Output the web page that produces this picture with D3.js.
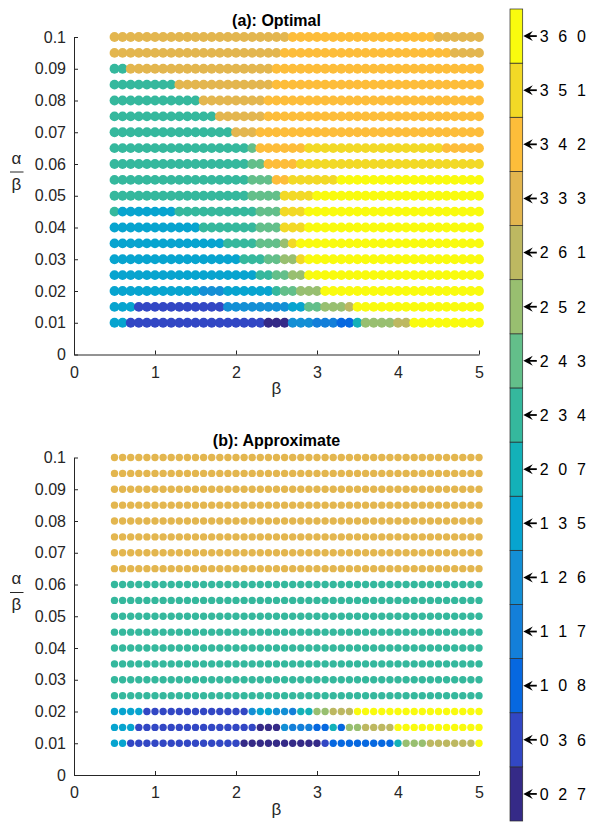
<!DOCTYPE html>
<html>
<head>
<meta charset="utf-8">
<script src="https://cdn.jsdelivr.net/npm/d3@7"></script>
<style>
body { margin: 0; background: #ffffff; }
svg { display: block; font-family: "Liberation Sans", Arial, Helvetica, sans-serif; }
</style>
</head>
<body>
<svg id="chart"></svg>
<script>
var width = 589;
var height = 824;

// colour classes, bottom to top of the colour bar
var classes = ["027", "036", "108", "117", "126", "135", "207", "234",
	"243", "252", "261", "333", "342", "351", "360"];
var classColors = ["#352a87", "#3247c4", "#0668e0", "#137fd9", "#138fd5", "#07a4cf",
	"#13b1b8", "#35b89d", "#63bf8a", "#98bf70", "#bdb861", "#e3b64f",
	"#fdbd3a", "#f2d926", "#f9fb0e"];

var betaValues = [0.5, 0.6, 0.7, 0.8, 0.9, 1.0, 1.1, 1.2, 1.3, 1.4, 1.5, 1.6,
	1.7, 1.8, 1.9, 2.0, 2.1, 2.2, 2.3, 2.4, 2.5, 2.6, 2.7, 2.8, 2.9, 3.0, 3.1,
	3.2, 3.3, 3.4, 3.5, 3.6, 3.7, 3.8, 3.9, 4.0, 4.1, 4.2, 4.3, 4.4, 4.5, 4.6,
	4.7, 4.8, 4.9, 5.0];
var alphaValues = [0.01, 0.015, 0.02, 0.025, 0.03, 0.035, 0.04, 0.045, 0.05,
	0.055, 0.06, 0.065, 0.07, 0.075, 0.08, 0.085, 0.09, 0.095, 0.1];

var xTicks = [0, 1, 2, 3, 4, 5];
var yTicks = [0, 0.01, 0.02, 0.03, 0.04, 0.05, 0.06, 0.07, 0.08, 0.09, 0.1];
var yTickLabels = ["0", "0.01", "0.02", "0.03", "0.04", "0.05", "0.06", "0.07",
	"0.08", "0.09", "0.1"];

// runs of [class, count] along beta, one list per alpha row (0.01 first)
var optimalRows = [
	[["135", 2], ["036", 17], ["027", 3], ["126", 3], ["117", 3], ["108", 2], ["207", 1], ["252", 4], ["261", 2], ["360", 9]],
	[["135", 3], ["036", 11], ["126", 8], ["135", 2], ["243", 2], ["252", 3], ["261", 1], ["360", 16]],
	[["135", 11], ["126", 3], ["135", 6], ["234", 1], ["243", 2], ["252", 3], ["360", 20]],
	[["135", 18], ["234", 2], ["243", 2], ["252", 2], ["360", 22]],
	[["135", 16], ["234", 3], ["243", 2], ["252", 2], ["351", 1], ["360", 22]],
	[["135", 14], ["234", 4], ["243", 3], ["252", 1], ["351", 1], ["360", 23]],
	[["135", 11], ["234", 7], ["243", 3], ["351", 3], ["360", 22]],
	[["234", 1], ["135", 7], ["234", 10], ["243", 3], ["351", 3], ["360", 22]],
	[["234", 17], ["243", 4], ["351", 4], ["360", 21]],
	[["234", 17], ["243", 3], ["342", 2], ["351", 6], ["360", 18]],
	[["234", 17], ["243", 2], ["342", 4], ["351", 23]],
	[["234", 17], ["243", 1], ["342", 6], ["351", 17], ["342", 5]],
	[["234", 15], ["333", 3], ["342", 28]],
	[["234", 13], ["333", 6], ["342", 27]],
	[["234", 11], ["333", 8], ["342", 27]],
	[["234", 8], ["333", 12], ["342", 26]],
	[["234", 2], ["333", 18], ["342", 26]],
	[["333", 21], ["342", 21], ["333", 4]],
	[["333", 22], ["342", 18], ["333", 6]]
];

var approxRows = [
	[["135", 2], ["036", 14], ["027", 10], ["036", 1], ["108", 8], ["207", 1], ["252", 3], ["261", 6], ["360", 1]],
	[["135", 3], ["036", 15], ["027", 3], ["126", 1], ["117", 3], ["108", 2], ["207", 1], ["108", 1], ["252", 2], ["261", 4], ["360", 11]],
	[["135", 4], ["036", 13], ["126", 1], ["135", 2], ["126", 2], ["117", 1], ["207", 2], ["252", 2], ["261", 3], ["360", 16]],
	[["234", 46]], [["234", 46]], [["234", 46]], [["234", 46]],
	[["234", 46]], [["234", 46]], [["234", 46]], [["234", 46]],
	[["333", 46]], [["333", 46]], [["333", 46]], [["333", 46]],
	[["333", 46]], [["333", 46]], [["333", 46]], [["333", 46]]
];

var panels = [
	{ title: "(a): Optimal", rows: optimalRows, top: 37, bottom: 354.5, r: 4.9 },
	{ title: "(b): Approximate", rows: approxRows, top: 457.5, bottom: 775, r: 3.7 }
];

var axisColor = "#262626";

var svg = d3.select("#chart")
.attr("width", width)
.attr("height", height);

var color = d3.scaleOrdinal()
.domain(classes)
.range(classColors);

var x = d3.scaleLinear()
.domain([0, 5])
.range([74, 479]);

// turn the runs into one point per (beta, alpha) cell
function expand(rows) {
	var points = [];
	rows.forEach(function (runs, i) {
		var k = 0;
		runs.forEach(function (run) {
			for (var n = 0; n < run[1]; n++) {
				points.push({ beta: betaValues[k], alpha: alphaValues[i], c: run[0] });
				k++;
			}
		});
	});
	return points;
}

panels.forEach(function (p) {
	var y = d3.scaleLinear()
	.domain([0, 0.1])
	.range([p.bottom, p.top]);

	var g = svg.append("g");

	g.append("g")
	.selectAll("circle")
	.data(expand(p.rows))
	.enter().append("circle")
	.attr("cx", function (d) { return x(d.beta); })
	.attr("cy", function (d) { return y(d.alpha); })
	.attr("r", p.r)
	.style("fill", function (d) { return color(d.c); });

	var xAxis = g.append("g")
	.attr("transform", "translate(0," + p.bottom + ")")
	.call(d3.axisBottom(x)
		.tickValues(xTicks)
		.tickFormat(d3.format("d"))
		.tickSizeInner(-4)
		.tickSizeOuter(0)
		.tickPadding(12));

	var yAxis = g.append("g")
	.attr("transform", "translate(" + x(0) + ",0)")
	.call(d3.axisLeft(y)
		.tickValues(yTicks)
		.tickFormat(function (d, i) { return yTickLabels[i]; })
		.tickSizeInner(-4)
		.tickSizeOuter(0)
		.tickPadding(8));

	[xAxis, yAxis].forEach(function (a) {
		a.selectAll("path, line").attr("stroke", axisColor);
		a.selectAll("text")
		.attr("fill", axisColor)
		.style("font-size", "16px");
	});

	g.append("text")
	.attr("x", (x(0) + x(5)) / 2)
	.attr("y", p.top - 11.5)
	.attr("text-anchor", "middle")
	.style("font-size", "16px")
	.style("font-weight", "bold")
	.style("fill", "#000000")
	.text(p.title);

	g.append("text")
	.attr("x", (x(0) + x(5)) / 2)
	.attr("y", p.bottom + 39.5)
	.attr("text-anchor", "middle")
	.style("font-size", "17px")
	.style("fill", axisColor)
	.text("β");

	// alpha over beta, written as a fraction
	var fy = p.top + 135;
	g.append("text")
	.attr("x", 16.5)
	.attr("y", fy - 8.5)
	.attr("text-anchor", "middle")
	.style("font-size", "17px")
	.style("fill", axisColor)
	.text("α");
	g.append("line")
	.attr("x1", 10)
	.attr("x2", 23.5)
	.attr("y1", fy)
	.attr("y2", fy)
	.attr("stroke", axisColor)
	.attr("stroke-width", 1);
	g.append("text")
	.attr("x", 16.5)
	.attr("y", fy + 17.5)
	.attr("text-anchor", "middle")
	.style("font-size", "17px")
	.style("fill", axisColor)
	.text("β");
});

// colour bar
var cb = d3.scaleBand()
.domain(classes.slice().reverse())
.range([9, 821]);

var bar = svg.append("g");

bar.selectAll("rect")
.data(classes)
.enter().append("rect")
.attr("x", 510)
.attr("y", function (d) { return cb(d); })
.attr("width", 12.7)
.attr("height", cb.bandwidth())
.style("fill", function (d) { return color(d); })
.style("stroke", "#2b2b2b")
.style("stroke-width", 0.7);

var marks = bar.selectAll("g.mark")
.data(classes)
.enter().append("g")
.attr("class", "mark")
.attr("transform", function (d) {
	return "translate(523.3," + (cb(d) + cb.bandwidth() / 2) + ")";
});

marks.append("path")
.attr("d", "M0,0 L9.5,-5 L6,0 L9.5,5 Z")
.style("fill", "#000000");

marks.append("line")
.attr("x1", 5)
.attr("x2", 13.5)
.attr("y1", 0)
.attr("y2", 0)
.attr("stroke", "#000000")
.attr("stroke-width", 1.8);

marks.append("text")
.attr("x", 16.5)
.attr("y", 5.8)
.style("font-size", "16px")
.style("letter-spacing", "2.6px")
.style("white-space", "pre")
.style("fill", "#000000")
.text(function (d) { return d.split("").join(" "); });
</script>
</body>
</html>
